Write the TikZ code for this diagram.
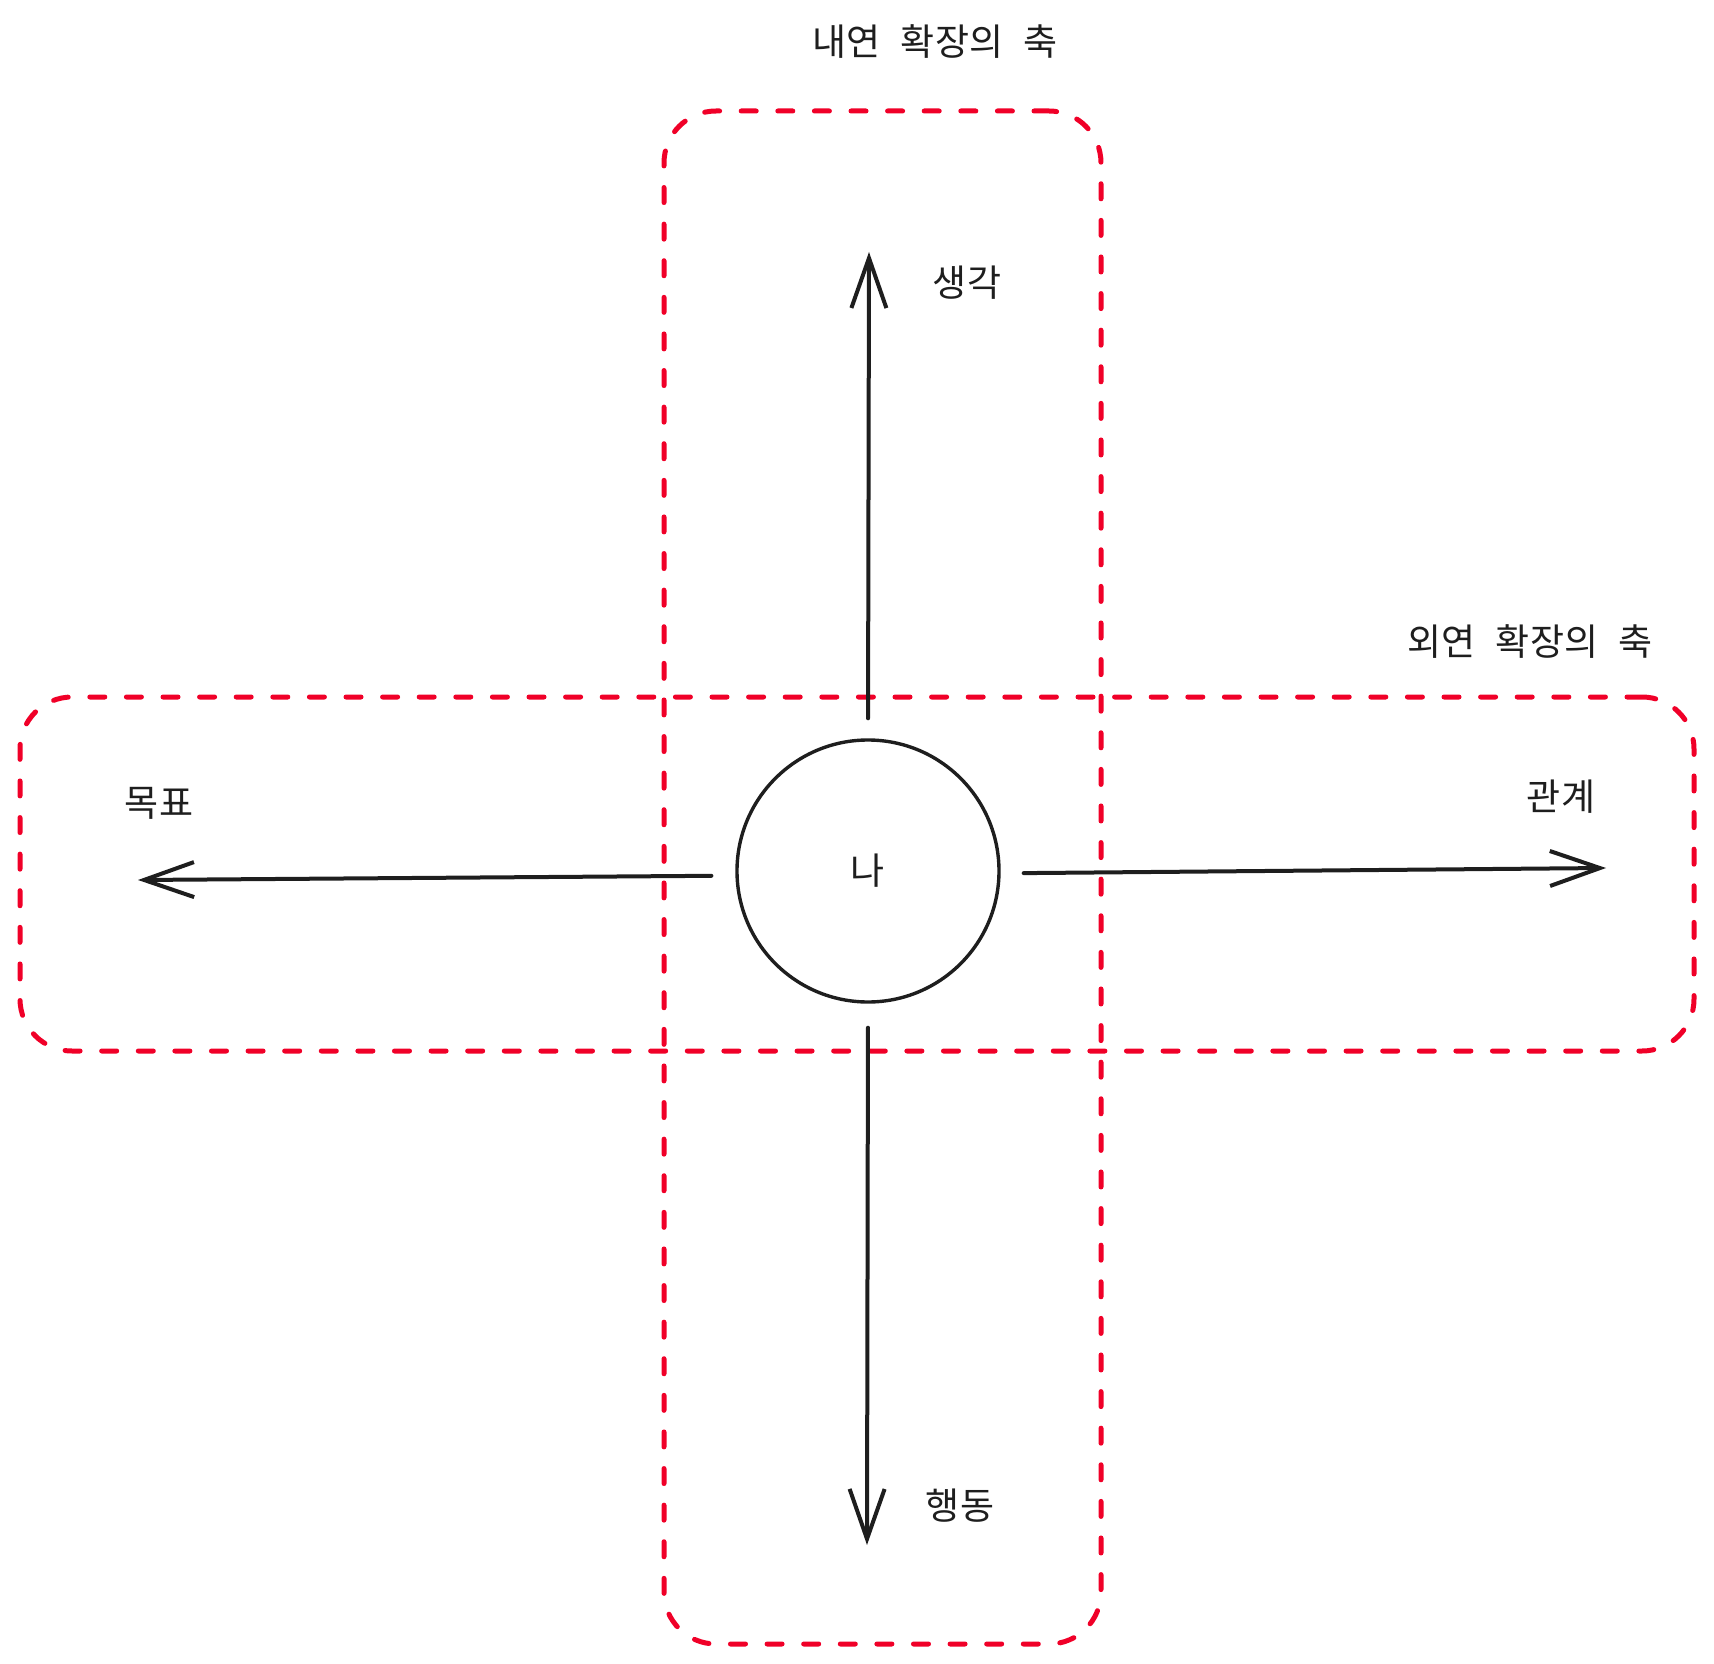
\documentclass[tikz,border=0pt]{standalone}
\usepackage{fontspec}
\newfontfamily\kr{Noto Sans CJK KR}
\usetikzlibrary{arrows.meta}
\definecolor{ink}{HTML}{1E1E1E}
\definecolor{redd}{RGB}{240,0,40}
\tikzset{
  axisbox/.style={draw=redd, line width=2.5pt, line cap=round, dash pattern=on 7.5pt off 10.8pt, rounded corners=26pt, rectangle, inner sep=0pt},
  arr/.style={draw=ink, line width=2pt, line cap=round, line join=round, -{Straight Barb[length=25pt, width=17.5pt, line width=2pt]}},
  lbl/.style={text=ink, font=\kr\fontsize{18.5pt}{22pt}\selectfont, inner sep=0pt},
  mecircle/.style={circle, draw=ink, line width=1.7pt, minimum size=131pt, inner sep=0pt, text=ink, font=\kr\fontsize{18.5pt}{22pt}\selectfont}
}
\newcommand{\wsp}{\hspace{0.55em}}
\begin{document}
\begin{tikzpicture}[x=0.5pt, y=-0.5pt]
\useasboundingbox (0,0) rectangle (1714,1664);
% axis boxes
\node[axisbox, minimum width=218.5pt, minimum height=766.5pt] (vbox) at (882.5,877.5) {};
\node[axisbox, minimum width=837pt, minimum height=177pt] (hbox) at (857,874) {};
% centre
\node[mecircle] (me) at (868,871) {나};
% arrow ends
\coordinate (tipU) at (869,252);
\coordinate (tipD) at (867,1545);
\coordinate (tipL) at (138,880);
\coordinate (tipR) at (1606,868);
\draw[arr, shorten <=10pt] (me.north) -- (tipU);
\draw[arr, shorten <=12pt] (me.south) -- (tipD);
\draw[arr, shorten <=12pt] (me.182) -- (tipL);
\draw[arr, shorten <=11.5pt] (me.359) -- (tipR);
% labels
\node[lbl] (think) at (967,283) {생각};
\node[lbl] (act) at (960,1506) {행동};
\node[lbl] (goal) at (159,803) {목표};
\node[lbl] (rel) at (1561,797) {관계};
\node[lbl] (inner) at (935,42) {내연\wsp 확장의\wsp 축};
\node[lbl] (outer) at (1530,642) {외연\wsp 확장의\wsp 축};
\end{tikzpicture}
\end{document}
